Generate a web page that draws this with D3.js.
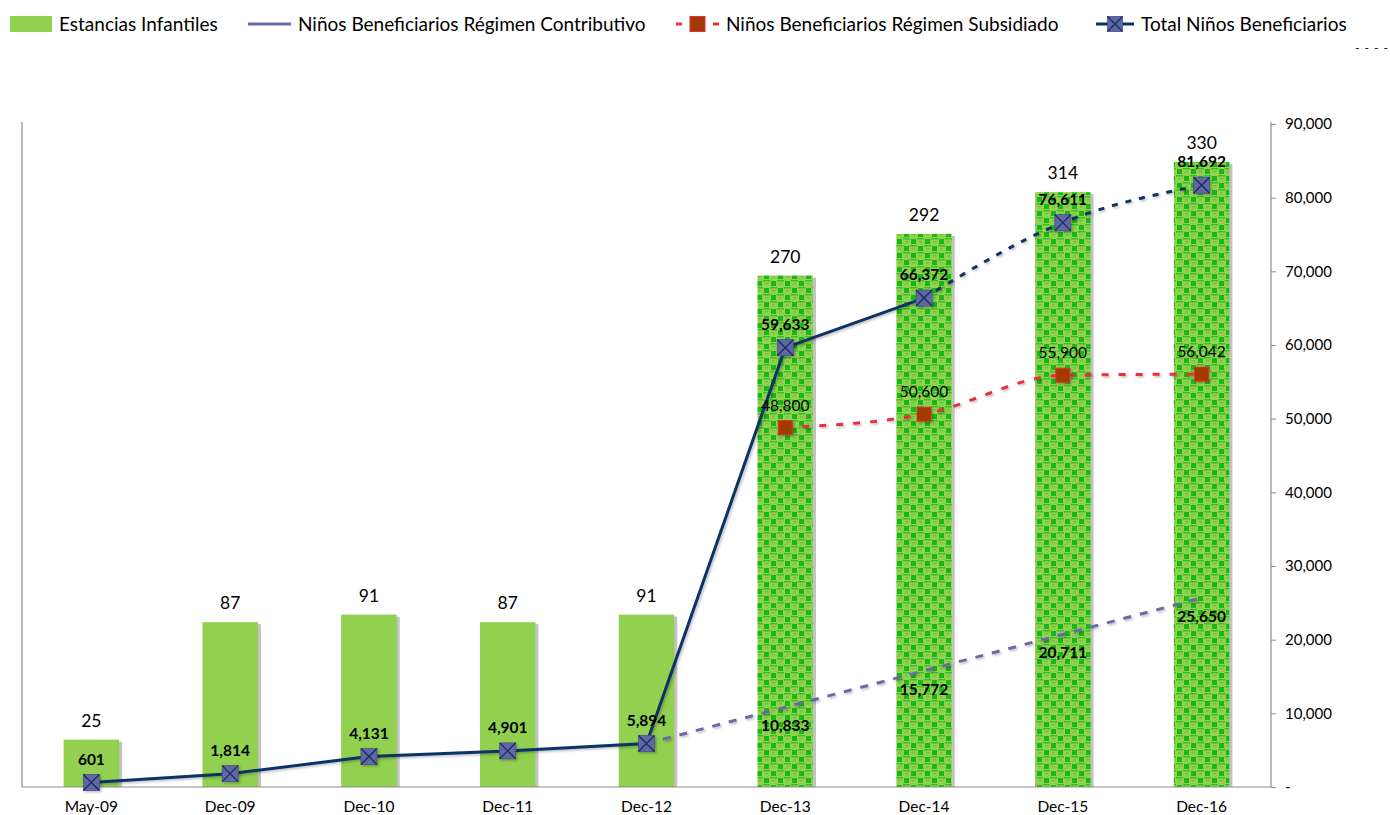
<!DOCTYPE html>
<html><head><meta charset="utf-8">
<script src="https://cdn.jsdelivr.net/npm/d3@7"></script>
<style>
body{margin:0;background:#fff;}
text{font-family:Lato,"Open Sans",sans-serif;fill:#000;}
</style>
</head><body>
<svg id="chart" width="1390" height="815"></svg>
<script>
// ---------- data ----------
const categories = ["May-09","Dec-09","Dec-10","Dec-11","Dec-12","Dec-13","Dec-14","Dec-15","Dec-16"];
const estancias = [25,87,91,87,91,270,292,314,330];
const projected = [false,false,false,false,false,true,true,true,true];
const contributivo = [null,null,null,null,5894,10833,15772,20711,25650];
const contributivoLabeled = [false,false,false,false,false,true,true,true,true];
const subsidiado = [null,null,null,null,null,48800,50600,55900,56042];
const total = [601,1814,4131,4901,5894,59633,66372,76611,81692];
const totalSolid = [true,true,true,true,true,true,true,false,false];
const rightTicks = [0,10000,20000,30000,40000,50000,60000,70000,80000,90000];
const legendLabels = ["Estancias Infantiles","Niños Beneficiarios Régimen Contributivo","Niños Beneficiarios Régimen Subsidiado","Total Niños Beneficiarios"];

// ---------- layout ----------
const svg = d3.select("#chart");
const L = 22, R = 1271, T = 124, B = 787;
const x = d3.scaleBand().domain(categories).range([L, R]).paddingInner(0.6).paddingOuter(0.3);
const yR = d3.scaleLinear().domain([0, 90000]).range([B, T]);
const yL = d3.scaleLinear().domain([0, 350]).range([B, T]);
const cx = i => x(categories[i]) + x.bandwidth() / 2;

const C = {
  green: "#92D050", dark: "#17B817", navy: "#0B3266", purple: "#6B6BAA",
  red: "#E8333B", redFill: "#A33A06", marker: "#5F67A3", axis: "#8C8C8C"
};

// pattern
const defs = svg.append("defs");
const P = 14, h = P / 2;
const pat = defs.append("pattern").attr("id", "chk").attr("patternUnits", "userSpaceOnUse")
  .attr("width", P).attr("height", P);
pat.append("rect").attr("width", P).attr("height", P).attr("fill", C.green);
pat.append("rect").attr("x", 1).attr("y", 1).attr("width", 5).attr("height", 5).attr("fill", C.dark);
pat.append("rect").attr("x", h + 1).attr("y", h + 1).attr("width", 5).attr("height", 5).attr("fill", C.dark);
pat.append("rect").attr("x", h).attr("y", 0).attr("width", h).attr("height", 1.5).attr("fill", "#3CC02A");
pat.append("rect").attr("x", 0).attr("y", h).attr("width", h).attr("height", 1.5).attr("fill", "#3CC02A");
pat.append("rect").attr("x", h + 2).attr("y", 3).attr("width", 3).attr("height", 1.5).attr("fill", "#6CC83A");
pat.append("rect").attr("x", 2).attr("y", h + 3).attr("width", 3).attr("height", 1.5).attr("fill", "#6CC83A");

const shadow = defs.append("filter").attr("id", "sh").attr("x", "-20%").attr("y", "-20%").attr("width", "140%").attr("height", "140%");
shadow.append("feDropShadow").attr("dx", 1.5).attr("dy", 1.5).attr("stdDeviation", 1).attr("flood-color", "#000").attr("flood-opacity", 0.25);

// ---------- axes frame ----------
svg.append("line").attr("x1", L).attr("x2", L).attr("y1", T - 2).attr("y2", B).attr("stroke", C.axis).attr("stroke-width", 1.2);

// bars
const bars = svg.append("g");
bars.selectAll("rect.sh").data(estancias).join("rect").attr("class", "sh")
  .attr("x", (d, i) => x(categories[i]) + 3).attr("y", d => yL(d) + 2)
  .attr("width", x.bandwidth()).attr("height", d => B - yL(d) - 2).attr("fill", "#C3C3C3");
bars.selectAll("rect.bar").data(estancias).join("rect").attr("class", "bar")
  .attr("x", (d, i) => x(categories[i])).attr("y", d => yL(d))
  .attr("width", x.bandwidth()).attr("height", d => B - yL(d))
  .attr("fill", (d, i) => projected[i] ? "url(#chk)" : C.green);
bars.selectAll("text").data(estancias).join("text")
  .attr("x", (d, i) => cx(i)).attr("y", d => yL(d) - 13)
  .attr("text-anchor", "middle").attr("font-size", 17.5).text(d => d);

// bottom axis
const gx = svg.append("g").attr("transform", `translate(0,${B})`)
  .call(d3.axisBottom(x).tickSize(0).tickPadding(14));
gx.select(".domain").attr("stroke", C.axis).attr("stroke-width", 1.2).attr("d", `M${L},0H${R}`);
gx.selectAll("text").attr("font-size", 15.5).attr("font-family", "Lato, sans-serif").attr("fill", "#000");

// right axis
const gy = svg.append("g").attr("transform", `translate(${R},0)`)
  .call(d3.axisRight(yR).tickValues(rightTicks).tickSize(5).tickPadding(9)
    .tickFormat(d => d === 0 ? "-" : d3.format(",")(d)));
gy.select(".domain").attr("stroke", C.axis).attr("stroke-width", 1.2).attr("d", `M0,${T - 2}V${B}`);
gy.selectAll(".tick line").attr("stroke", C.axis);
gy.selectAll("text").attr("font-size", 15).attr("font-family", "Lato, sans-serif").attr("fill", "#000");

// ---------- lines ----------
const lineGen = (vals, curve) => d3.line()
  .defined(d => d[1] != null)
  .x(d => cx(d[0])).y(d => yR(d[1])).curve(curve)(vals.map((v, i) => [i, v]));

// contributivo dashed
svg.append("path").attr("d", lineGen(contributivo, d3.curveLinear))
  .attr("fill", "none").attr("stroke", C.purple).attr("stroke-width", 3)
  .attr("stroke-dasharray", "8,9").attr("filter", "url(#sh)");

// subsidiado dashed
svg.append("path").attr("d", lineGen(subsidiado, d3.curveMonotoneX))
  .attr("fill", "none").attr("stroke", C.red).attr("stroke-width", 3)
  .attr("stroke-dasharray", "7,10").attr("filter", "url(#sh)");

// total: solid part, then dashed part
const lastSolid = totalSolid.lastIndexOf(true);
const solidPart = total.map((v, i) => i <= lastSolid ? v : null);
const dashPart = total.map((v, i) => i >= lastSolid ? v : null);
svg.append("path").attr("d", lineGen(solidPart, d3.curveLinear))
  .attr("fill", "none").attr("stroke", C.navy).attr("stroke-width", 3).attr("filter", "url(#sh)");
svg.append("path").attr("d", lineGen(dashPart, d3.curveMonotoneX))
  .attr("fill", "none").attr("stroke", C.navy).attr("stroke-width", 3)
  .attr("stroke-dasharray", "6,8").attr("filter", "url(#sh)");

// subsidiado markers
const sm = 14;
svg.append("g").selectAll("rect").data(subsidiado.map((v, i) => [i, v]).filter(d => d[1] != null)).join("rect")
  .attr("x", d => cx(d[0]) - sm / 2).attr("y", d => yR(d[1]) - sm / 2)
  .attr("width", sm).attr("height", sm).attr("fill", C.redFill).attr("stroke", "#E0302F").attr("stroke-width", 1)
  .attr("filter", "url(#sh)");

// total markers
function xMarker(g, px, py, s) {
  g.append("rect").attr("x", px - s / 2).attr("y", py - s / 2).attr("width", s).attr("height", s)
    .attr("fill", C.marker).attr("stroke", "#4A5190").attr("stroke-width", 0.8);
  g.append("path").attr("d", `M${px - s / 2},${py - s / 2}L${px + s / 2},${py + s / 2}M${px + s / 2},${py - s / 2}L${px - s / 2},${py + s / 2}`)
    .attr("stroke", "#1B2A63").attr("stroke-width", 1.3);
}
const tm = svg.append("g").attr("filter", "url(#sh)");
total.forEach((v, i) => xMarker(tm, cx(i), yR(v), 16));

// ---------- data labels ----------
const fmt = d3.format(",");
svg.append("g").selectAll("text").data(total).join("text")
  .attr("x", (d, i) => cx(i)).attr("y", d => yR(d) - 18)
  .attr("text-anchor", "middle").attr("font-size", 15.5).attr("font-weight", "bold").text(d => fmt(d));
svg.append("g").selectAll("text").data(subsidiado.map((v, i) => [i, v]).filter(d => d[1] != null)).join("text")
  .attr("x", d => cx(d[0])).attr("y", d => yR(d[1]) - 17)
  .attr("text-anchor", "middle").attr("font-size", 15.5).text(d => fmt(d[1]));
svg.append("g").selectAll("text").data(contributivo.map((v, i) => [i, v]).filter(d => d[1] != null && contributivoLabeled[d[0]])).join("text")
  .attr("x", d => cx(d[0])).attr("y", d => yR(d[1]) + 24)
  .attr("text-anchor", "middle").attr("font-size", 15.5).attr("font-weight", "bold").text(d => fmt(d[1]));

// ---------- legend ----------
const lg = svg.append("g");
const ly = 24, fs = 19;
lg.append("rect").attr("x", 10).attr("y", ly - 8).attr("width", 42).attr("height", 16).attr("fill", C.green);
lg.append("text").attr("x", 59).attr("y", ly + 6.5).attr("font-size", fs).text(legendLabels[0]);
lg.append("line").attr("x1", 248).attr("x2", 291).attr("y1", ly).attr("y2", ly).attr("stroke", C.purple).attr("stroke-width", 3);
lg.append("text").attr("x", 298).attr("y", ly + 6.5).attr("font-size", fs).text(legendLabels[1]);
lg.append("line").attr("x1", 676).attr("x2", 682).attr("y1", ly).attr("y2", ly).attr("stroke", C.red).attr("stroke-width", 3);
lg.append("line").attr("x1", 713).attr("x2", 719).attr("y1", ly).attr("y2", ly).attr("stroke", C.red).attr("stroke-width", 3);
lg.append("rect").attr("x", 690).attr("y", ly - 7.5).attr("width", 15).attr("height", 15).attr("fill", C.redFill).attr("stroke", "#E0302F");
lg.append("text").attr("x", 726).attr("y", ly + 6.5).attr("font-size", fs).text(legendLabels[2]);
lg.append("line").attr("x1", 1096).attr("x2", 1134).attr("y1", ly).attr("y2", ly).attr("stroke", C.navy).attr("stroke-width", 3);
xMarker(lg, 1115, ly, 15);
lg.append("text").attr("x", 1141).attr("y", ly + 6.5).attr("font-size", fs).text(legendLabels[3]);

// stray marks top-right
svg.append("text").attr("x", 1355).attr("y", 52).attr("font-size", 12).attr("letter-spacing", 1).attr("fill", "#444").text("- -  - -");
</script>
</body></html>
